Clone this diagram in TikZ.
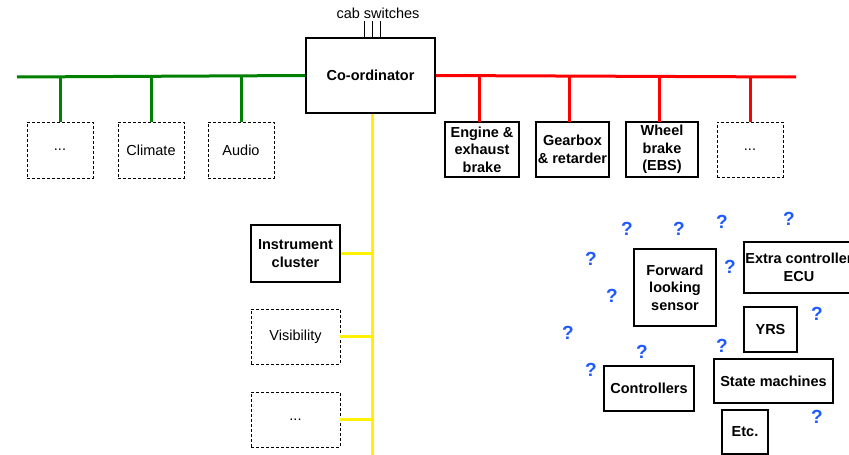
\documentclass[tikz,border=0pt]{standalone}
\usepackage{fontspec}
\setmainfont{Liberation Sans}
\definecolor{busgreen}{RGB}{0,128,0}
\definecolor{qblue}{RGB}{30,90,255}
\tikzset{
  ecu/.style={draw,line width=1.5pt,align=center,inner sep=0,font=\bfseries},
  spare/.style={draw,dash pattern=on 3pt off 2pt,line width=0.7pt,align=center,inner sep=0},
  bus/.style={line width=3pt},
  qm/.style={text=qblue,font=\fontsize{19}{19}\selectfont\bfseries,inner sep=0}
}
\begin{document}
\fontsize{14.5}{17.5}\selectfont
\begin{tikzpicture}[x=1pt,y=-1pt]
  \clip (0,0) rectangle (849,455);

  \node (coord) at (370.5,75.5) [ecu,minimum width=129,minimum height=75]{Co-ordinator};
  \node (cab) at (378,13) []{cab switches};

  % body bus
  \node (dots1) at (60,150) [spare,minimum width=66,minimum height=56]{...};
  \node (clim) at (151,150) [spare,minimum width=66,minimum height=56]{Climate};
  \node (audio) at (241,150) [spare,minimum width=66,minimum height=56]{Audio};

  % powertrain bus
  \node (eng) at (482,149.5) [ecu,minimum width=74,minimum height=55]{Engine \&\\exhaust\\brake};
  \node (gear) at (572.5,149.5) [ecu,minimum width=73,minimum height=55]{Gearbox\\\& retarder};
  \node (wheel) at (662,149.5) [ecu,minimum width=72,minimum height=55]{Wheel\\brake\\(EBS)};
  \node (dots2) at (750,149.5) [spare,minimum width=66,minimum height=55]{...};

  % dash bus
  \node (instr) at (295.5,253.5) [ecu,minimum width=89,minimum height=57]{Instrument\\cluster};
  \node (vis) at (295.5,336.5) [spare,minimum width=89,minimum height=55]{Visibility};
  \node (dots3) at (295.5,419.5) [spare,minimum width=89,minimum height=55]{...};

  % open questions
  \node (fls) at (675,287.5) [ecu,minimum width=82,minimum height=77]{Forward\\looking\\sensor};
  \node (extra) at (799,267.5) [ecu,minimum width=110,minimum height=51]{Extra controller\\ECU};
  \node (yrs) at (770.5,329.5) [ecu,minimum width=53,minimum height=45]{YRS};
  \node (sm) at (773.5,381) [ecu,minimum width=119,minimum height=44]{State machines};
  \node (ctrl) at (649,388.5) [ecu,minimum width=90,minimum height=45]{Controllers};
  \node (etc) at (745,432) [ecu,minimum width=46,minimum height=44]{Etc.};

  \foreach \x/\y [count=\i] in {627/229,679/229,722/222,789/219,591/259,730/267,612/296,
      568/333,817/314,642/352,722/346,591/370,817/417}
    \node (q\i) at (\x,\y) [qm]{?};

  \coordinate (gl) at (17,77);
  \coordinate (rr) at (796,77);
  \coordinate (yb) at (372,455);

  \draw[bus,busgreen] (gl) -- (coord.west);
  \draw[bus,red] (coord.east) -- (rr);
  \draw[bus,yellow] (coord.south -| yb) -- (yb);

  \foreach \n in {dots1,clim,audio}
    \draw[bus,busgreen] (\n.north |- gl) -- (\n.north);
  \foreach \n/\x in {eng/479,gear/569,wheel/659,dots2/750}
    \draw[bus,red] (\x,77) -- (\x,122);
  \foreach \n in {instr,vis,dots3}
    \draw[bus,yellow] (\n.east) -- (\n.east -| yb);

  \foreach \x in {364,372,380}
    \draw[line width=0.7pt] (coord.north -| \x,0) -- (\x,21);
\end{tikzpicture}
\end{document}
